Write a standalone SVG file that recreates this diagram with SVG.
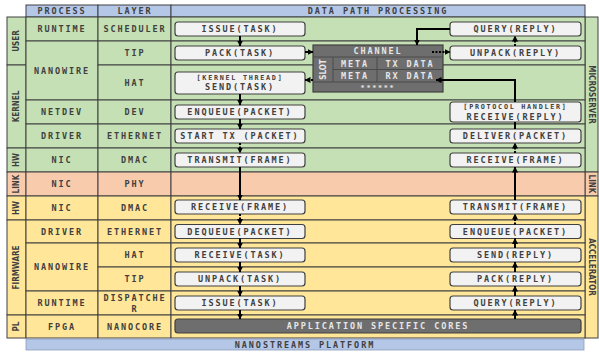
<svg xmlns="http://www.w3.org/2000/svg" width="599" height="352" viewBox="0 0 599 352">
<style>
.t{font-family:"DejaVu Sans Mono","Liberation Mono",monospace;font-weight:bold;font-size:8.5px;letter-spacing:1.9px;fill:#404040;text-anchor:middle;dominant-baseline:central}
.sm{font-size:6.8px;letter-spacing:1.7px}
.w{fill:#e6e6e6}
.s{font-family:"DejaVu Sans Condensed","DejaVu Sans",sans-serif;font-stretch:condensed;font-weight:bold;font-size:8px;fill:#404040;text-anchor:middle;dominant-baseline:central}
.c{stroke:#404040;stroke-width:1}
.g{fill:#c5e0b4}.y{fill:#ffe699}.p{fill:#f8cbad}.b{fill:#b4c7e7}
.box{fill:#f2f2f2;stroke:#404040;stroke-width:1.2}
.dk{fill:#6e6e6e;stroke:#404040;stroke-width:1.2}
.ln{fill:none;stroke:#000;stroke-width:2}
.dt{fill:none;stroke:#000;stroke-width:2;stroke-dasharray:2 1.5}
.il{stroke:#4a4a4a;stroke-width:1}
</style>
<defs>
<marker id="ah" markerUnits="userSpaceOnUse" markerWidth="6" markerHeight="6" refX="5.5" refY="3" orient="auto">
<path d="M0,0 L6,3 L0,6 z" fill="#000"/>
</marker>
</defs>

<g id="header">
<rect class="c b" x="26" y="5" width="72" height="12"/>
<rect class="c b" x="98" y="5" width="73" height="12"/>
<rect class="c b" x="171" y="5" width="414" height="12"/>
<text class="t" x="62" y="11">PROCESS</text>
<text class="t" x="135" y="11">LAYER</text>
<text class="t" x="378" y="11">DATA PATH PROCESSING</text>
</g>

<g id="side-left">
<rect class="c g" x="7" y="17" width="19" height="48"/>
<rect class="c g" x="7" y="65" width="19" height="83"/>
<rect class="c g" x="7" y="148" width="19" height="24"/>
<rect class="c p" x="7" y="172" width="19" height="24"/>
<rect class="c y" x="7" y="196" width="19" height="24"/>
<rect class="c y" x="7" y="220" width="19" height="95"/>
<rect class="c y" x="7" y="315" width="19" height="23"/>
<text class="s" transform="translate(16.5,41) rotate(-90)">USER</text>
<text class="s" transform="translate(16.5,106.5) rotate(-90)">KERNEL</text>
<text class="s" transform="translate(16.5,160) rotate(-90)">HW</text>
<text class="s" transform="translate(16.5,184) rotate(-90)">LINK</text>
<text class="s" transform="translate(16.5,208) rotate(-90)">HW</text>
<text class="s" transform="translate(16.5,267.5) rotate(-90)">FIRMWARE</text>
<text class="s" transform="translate(16.5,326.5) rotate(-90)">PL</text>
</g>

<g id="side-right">
<rect class="c g" x="585" y="17" width="13" height="155"/>
<rect class="c p" x="585" y="172" width="13" height="24"/>
<rect class="c y" x="585" y="196" width="13" height="142"/>
<text class="s" transform="translate(591.5,94.5) rotate(90)">MICROSERVER</text>
<text class="s" transform="translate(591.5,184) rotate(90)">LINK</text>
<text class="s" transform="translate(591.5,267) rotate(90)">ACCELERATOR</text>
</g>

<g id="process">
<rect class="c g" x="26" y="17" width="72" height="24"/>
<rect class="c g" x="26" y="41" width="72" height="59"/>
<rect class="c g" x="26" y="100" width="72" height="24"/>
<rect class="c g" x="26" y="124" width="72" height="24"/>
<rect class="c g" x="26" y="148" width="72" height="24"/>
<rect class="c p" x="26" y="172" width="72" height="24"/>
<rect class="c y" x="26" y="196" width="72" height="24"/>
<rect class="c y" x="26" y="220" width="72" height="23"/>
<rect class="c y" x="26" y="243" width="72" height="48"/>
<rect class="c y" x="26" y="291" width="72" height="24"/>
<rect class="c y" x="26" y="315" width="72" height="23"/>
<text class="t" x="62" y="29">RUNTIME</text>
<text class="t" x="62" y="71">NANOWIRE</text>
<text class="t" x="62" y="112">NETDEV</text>
<text class="t" x="62" y="136">DRIVER</text>
<text class="t" x="62" y="160">NIC</text>
<text class="t" x="62" y="184">NIC</text>
<text class="t" x="62" y="208">NIC</text>
<text class="t" x="62" y="231.5">DRIVER</text>
<text class="t" x="62" y="267">NANOWIRE</text>
<text class="t" x="62" y="303">RUNTIME</text>
<text class="t" x="62" y="326.5">FPGA</text>
</g>

<g id="layer">
<rect class="c g" x="98" y="17" width="73" height="24"/>
<rect class="c g" x="98" y="41" width="73" height="24"/>
<rect class="c g" x="98" y="65" width="73" height="35"/>
<rect class="c g" x="98" y="100" width="73" height="24"/>
<rect class="c g" x="98" y="124" width="73" height="24"/>
<rect class="c g" x="98" y="148" width="73" height="24"/>
<rect class="c p" x="98" y="172" width="73" height="24"/>
<rect class="c y" x="98" y="196" width="73" height="24"/>
<rect class="c y" x="98" y="220" width="73" height="23"/>
<rect class="c y" x="98" y="243" width="73" height="24"/>
<rect class="c y" x="98" y="267" width="73" height="24"/>
<rect class="c y" x="98" y="291" width="73" height="24"/>
<rect class="c y" x="98" y="315" width="73" height="23"/>
<text class="t" x="135" y="29">SCHEDULER</text>
<text class="t" x="135" y="53">TIP</text>
<text class="t" x="135" y="82.5">HAT</text>
<text class="t" x="135" y="112">DEV</text>
<text class="t" x="135" y="136">ETHERNET</text>
<text class="t" x="135" y="160">DMAC</text>
<text class="t" x="135" y="184">PHY</text>
<text class="t" x="135" y="208">DMAC</text>
<text class="t" x="135" y="231.5">ETHERNET</text>
<text class="t" x="135" y="255">HAT</text>
<text class="t" x="135" y="279">TIP</text>
<text class="t" x="135" y="298">DISPATCHE</text>
<text class="t" x="135" y="309">R</text>
<text class="t" x="135" y="326.5">NANOCORE</text>
</g>

<g id="datapath">
<rect class="c g" x="171" y="17" width="414" height="24"/>
<rect class="c g" x="171" y="41" width="414" height="24"/>
<rect class="c g" x="171" y="65" width="414" height="35"/>
<rect class="c g" x="171" y="100" width="414" height="24"/>
<rect class="c g" x="171" y="124" width="414" height="24"/>
<rect class="c g" x="171" y="148" width="414" height="24"/>
<rect class="c p" x="171" y="172" width="414" height="24"/>
<rect class="c y" x="171" y="196" width="414" height="24"/>
<rect class="c y" x="171" y="220" width="414" height="23"/>
<rect class="c y" x="171" y="243" width="414" height="24"/>
<rect class="c y" x="171" y="267" width="414" height="24"/>
<rect class="c y" x="171" y="291" width="414" height="24"/>
<rect class="c y" x="171" y="315" width="414" height="23"/>
</g>

<g id="platform">
<rect x="26" y="339" width="558" height="11" class="b" stroke="#8c9dbb" stroke-width="0.8"/>
<text class="t" x="305" y="344.5">NANOSTREAMS PLATFORM</text>
</g>

<g id="l-issue-task"><rect class="box" x="175" y="22" width="130" height="14" rx="3"/><text class="t" x="240" y="29">ISSUE(TASK)</text></g>
<g id="l-pack-task"><rect class="box" x="175" y="46" width="130" height="14" rx="3"/><text class="t" x="240" y="53">PACK(TASK)</text></g>
<g id="l-send-task"><rect class="box" x="175" y="72" width="130" height="22" rx="3"/><text class="t sm" x="240" y="77.5">[KERNEL THREAD]</text><text class="t" x="240" y="87">SEND(TASK)</text></g>
<g id="l-enqueue"><rect class="box" x="175" y="105" width="130" height="14" rx="3"/><text class="t" x="240" y="112">ENQUEUE(PACKET)</text></g>
<g id="l-starttx"><rect class="box" x="175" y="129" width="130" height="14" rx="3"/><text class="t" x="240" y="136">START TX (PACKET)</text></g>
<g id="l-transmit"><rect class="box" x="175" y="153" width="130" height="14" rx="3"/><text class="t" x="240" y="160">TRANSMIT(FRAME)</text></g>
<g id="l-receive-frame"><rect class="box" x="175" y="200" width="130" height="14" rx="3"/><text class="t" x="240" y="207">RECEIVE(FRAME)</text></g>
<g id="l-dequeue"><rect class="box" x="175" y="224.5" width="130" height="14" rx="3"/><text class="t" x="240" y="231.5">DEQUEUE(PACKET)</text></g>
<g id="l-receive-task"><rect class="box" x="175" y="248" width="130" height="14" rx="3"/><text class="t" x="240" y="255">RECEIVE(TASK)</text></g>
<g id="l-unpack-task"><rect class="box" x="175" y="272" width="130" height="14" rx="3"/><text class="t" x="240" y="279">UNPACK(TASK)</text></g>
<g id="l-issue-task2"><rect class="box" x="175" y="296" width="130" height="14" rx="3"/><text class="t" x="240" y="303">ISSUE(TASK)</text></g>

<g id="r-query"><rect class="box" x="450" y="22" width="131" height="14" rx="3"/><text class="t" x="515.5" y="29">QUERY(REPLY)</text></g>
<g id="r-unpack"><rect class="box" x="450" y="46" width="131" height="14" rx="3"/><text class="t" x="515.5" y="53">UNPACK(REPLY)</text></g>
<g id="r-receive-reply"><rect class="box" x="450" y="102" width="131" height="20" rx="3"/><text class="t sm" x="515.5" y="107">[PROTOCOL HANDLER]</text><text class="t" x="515.5" y="116.5">RECEIVE(REPLY)</text></g>
<g id="r-deliver"><rect class="box" x="450" y="129" width="131" height="14" rx="3"/><text class="t" x="515.5" y="136">DELIVER(PACKET)</text></g>
<g id="r-receive-frame"><rect class="box" x="450" y="153" width="131" height="14" rx="3"/><text class="t" x="515.5" y="160">RECEIVE(FRAME)</text></g>
<g id="r-transmit"><rect class="box" x="450" y="200" width="131" height="14" rx="3"/><text class="t" x="515.5" y="207">TRANSMIT(FRAME)</text></g>
<g id="r-enqueue"><rect class="box" x="450" y="224.5" width="131" height="14" rx="3"/><text class="t" x="515.5" y="231.5">ENQUEUE(PACKET)</text></g>
<g id="r-send"><rect class="box" x="450" y="248" width="131" height="14" rx="3"/><text class="t" x="515.5" y="255">SEND(REPLY)</text></g>
<g id="r-pack"><rect class="box" x="450" y="272" width="131" height="14" rx="3"/><text class="t" x="515.5" y="279">PACK(REPLY)</text></g>
<g id="r-query2"><rect class="box" x="450" y="296" width="131" height="14" rx="3"/><text class="t" x="515.5" y="303">QUERY(REPLY)</text></g>

<g id="cores"><rect class="dk" x="175" y="319" width="406" height="14" rx="3"/><text class="t w" x="378" y="326">APPLICATION SPECIFIC CORES</text></g>

<g id="channel">
<rect class="dk" x="313" y="45" width="130" height="47"/>
<line class="il" x1="313" y1="57" x2="443" y2="57"/>
<line class="il" x1="333" y1="69.5" x2="443" y2="69.5"/>
<line class="il" x1="313" y1="82" x2="443" y2="82"/>
<line class="il" x1="333" y1="57" x2="333" y2="82"/>
<line class="il" x1="377" y1="57" x2="377" y2="82"/>
<text class="t w" x="378" y="51">CHANNEL</text>
<text class="s" style="fill:#e6e6e6" transform="translate(323,69.5) rotate(-90)">SLOT</text>
<text class="t w" x="355" y="63.5">META</text>
<text class="t w" x="355" y="76">META</text>
<text class="t w" x="410" y="63.5">TX DATA</text>
<text class="t w" x="410" y="76">RX DATA</text>
<text class="t w sm" x="378" y="87.5">******</text>
</g>

<g id="connectors">
<path class="ln" d="M240,36 V46" marker-end="url(#ah)"/>
<path class="ln" d="M305,52 H313" marker-end="url(#ah)"/>
<path class="dt" d="M313,80 H305" marker-end="url(#ah)"/>
<path class="ln" d="M240,94 V105" marker-end="url(#ah)"/>
<path class="ln" d="M240,119 V129" marker-end="url(#ah)"/>
<path class="dt" d="M240,143 V153" marker-end="url(#ah)"/>
<path class="ln" d="M240,167 V200" marker-end="url(#ah)"/>
<path class="dt" d="M240,214 V224.5" marker-end="url(#ah)"/>
<path class="ln" d="M240,238.5 V248" marker-end="url(#ah)"/>
<path class="ln" d="M240,262 V272" marker-end="url(#ah)"/>
<path class="ln" d="M240,286 V296" marker-end="url(#ah)"/>
<path class="ln" d="M240,310 V319" marker-end="url(#ah)"/>

<path class="ln" d="M515,319 V310" marker-end="url(#ah)"/>
<path class="ln" d="M515,296 V286" marker-end="url(#ah)"/>
<path class="ln" d="M515,272 V262" marker-end="url(#ah)"/>
<path class="ln" d="M515,248 V238.5" marker-end="url(#ah)"/>
<path class="dt" d="M515,224.5 V214" marker-end="url(#ah)"/>
<path class="ln" d="M515,200 V167" marker-end="url(#ah)"/>
<path class="dt" d="M515,153 V143" marker-end="url(#ah)"/>
<path class="ln" d="M515,129 V122"/>
<path class="ln" d="M515,102 V80 H436" marker-end="url(#ah)"/>
<path class="ln" d="M450,29 H417 V45" marker-end="url(#ah)"/>
<path class="dt" d="M432,52 H450" marker-end="url(#ah)"/>
<path class="dt" d="M515,46 V36" marker-end="url(#ah)"/>
</g>
</svg>
